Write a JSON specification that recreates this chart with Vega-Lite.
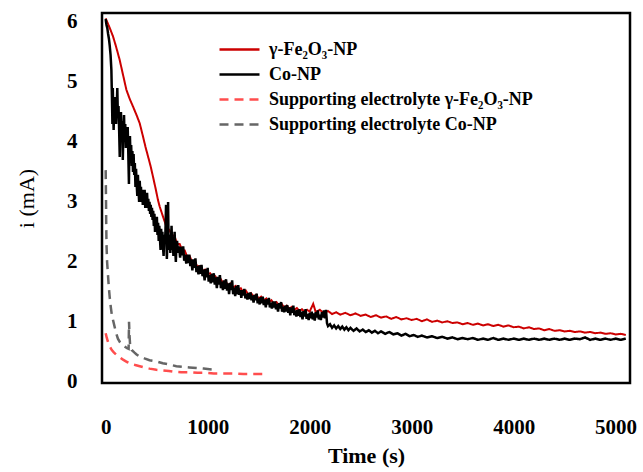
{
 "$schema": "https://vega.github.io/schema/vega-lite/v6.json",
 "width": 528, "height": 370,
 "autosize": {"type": "none"},
 "padding": {"left": 102, "top": 13, "right": 13, "bottom": 89},
 "background": "white",
 "config": {
  "view": {"stroke": "black", "strokeWidth": 2.5},
  "font": "Liberation Serif"
 },
 "datasets": {
  "xt": [{"t":0},{"t":1000},{"t":2000},{"t":3000},{"t":4000},{"t":5000}],
  "yt": [{"i":0},{"i":1},{"i":2},{"i":3},{"i":4},{"i":5},{"i":6}],
  "fe": [
   {"t":0,"i":6.06},{"t":20,"i":5.98},{"t":40,"i":5.9},{"t":72,"i":5.76},{"t":100,"i":5.6},{"t":137,"i":5.37},{"t":170,"i":5.12},{"t":203,"i":4.87},{"t":235,"i":4.72},{"t":268,"i":4.59},{"t":300,"i":4.46},{"t":334,"i":4.31},{"t":366,"i":4.09},{"t":390,"i":3.92},{"t":415,"i":3.76},{"t":440,"i":3.6},{"t":464,"i":3.42},{"t":490,"i":3.22},{"t":513,"i":3.03},{"t":530,"i":2.92},{"t":563,"i":2.75},{"t":595,"i":2.59},{"t":628,"i":2.52},
   {"t":650,"i":2.45},{"t":675,"i":2.43},{"t":700,"i":2.3},{"t":725,"i":2.3},{"t":750,"i":2.2},{"t":775,"i":2.19},{"t":800,"i":2.08},{"t":825,"i":2.09},{"t":850,"i":1.99},{"t":875,"i":2.0},{"t":900,"i":1.92},{"t":925,"i":1.93},{"t":950,"i":1.85},{"t":975,"i":1.87},{"t":1000,"i":1.79},{"t":1025,"i":1.81},{"t":1050,"i":1.74},{"t":1075,"i":1.76},{"t":1100,"i":1.69},{"t":1125,"i":1.72},{"t":1150,"i":1.65},{"t":1175,"i":1.68},{"t":1200,"i":1.61},{"t":1225,"i":1.64},{"t":1250,"i":1.57},{"t":1275,"i":1.6},{"t":1300,"i":1.53},{"t":1325,"i":1.56},{"t":1350,"i":1.49},{"t":1375,"i":1.52},{"t":1400,"i":1.45},{"t":1425,"i":1.48},{"t":1450,"i":1.42},{"t":1475,"i":1.45},{"t":1500,"i":1.39},{"t":1525,"i":1.42},{"t":1550,"i":1.36},{"t":1575,"i":1.39},{"t":1600,"i":1.33},{"t":1625,"i":1.36},{"t":1650,"i":1.3},{"t":1675,"i":1.33},{"t":1700,"i":1.27},{"t":1725,"i":1.3},{"t":1750,"i":1.24},{"t":1775,"i":1.27},{"t":1800,"i":1.22},{"t":1825,"i":1.25},{"t":1850,"i":1.2},{"t":1875,"i":1.23},{"t":1900,"i":1.18},{"t":1925,"i":1.21},{"t":1950,"i":1.17},{"t":1975,"i":1.2},{"t":2000,"i":1.17},{"t":2035,"i":1.3},{"t":2060,"i":1.16},{"t":2100,"i":1.2},{"t":2140,"i":1.14},{"t":2180,"i":1.18},{"t":2220,"i":1.13},{"t":2260,"i":1.16},{"t":2300,"i":1.12},{"t":2350,"i":1.15},{"t":2400,"i":1.11},{"t":2450,"i":1.14},{"t":2500,"i":1.1},{"t":2550,"i":1.12},{"t":2600,"i":1.08},{"t":2650,"i":1.11},{"t":2700,"i":1.07},{"t":2750,"i":1.09},{"t":2800,"i":1.05},{"t":2850,"i":1.08},{"t":2900,"i":1.04},{"t":2950,"i":1.06},{"t":3000,"i":1.03},{"t":3050,"i":1.05},{"t":3100,"i":1.01},{"t":3150,"i":1.04},{"t":3200,"i":1.0},{"t":3250,"i":1.02},{"t":3300,"i":0.99},{"t":3350,"i":1.01},{"t":3400,"i":0.98},{"t":3450,"i":0.99},{"t":3500,"i":0.96},{"t":3550,"i":0.98},{"t":3600,"i":0.95},{"t":3650,"i":0.97},{"t":3700,"i":0.94},{"t":3750,"i":0.96},{"t":3800,"i":0.93},{"t":3850,"i":0.95},{"t":3900,"i":0.92},{"t":3950,"i":0.94},{"t":4000,"i":0.91},{"t":4050,"i":0.92},{"t":4100,"i":0.89},{"t":4150,"i":0.91},{"t":4200,"i":0.88},{"t":4250,"i":0.89},{"t":4300,"i":0.86},{"t":4350,"i":0.88},{"t":4400,"i":0.85},{"t":4450,"i":0.86},{"t":4500,"i":0.84},{"t":4550,"i":0.85},{"t":4600,"i":0.83},{"t":4650,"i":0.84},{"t":4700,"i":0.82},{"t":4750,"i":0.83},{"t":4800,"i":0.81},{"t":4850,"i":0.82},{"t":4900,"i":0.8},{"t":4950,"i":0.81},{"t":5000,"i":0.79},{"t":5050,"i":0.8},{"t":5100,"i":0.78}
  ],
  "co": [
   {"t":0,"i":6.05},{"t":8,"i":5.95},{"t":16,"i":5.9},{"t":24,"i":5.8},{"t":32,"i":5.72},{"t":40,"i":5.6},{"t":48,"i":5.45},{"t":56,"i":5.2},{"t":62,"i":4.7},{"t":66,"i":4.3},{"t":70,"i":4.9},{"t":74,"i":4.5},{"t":78,"i":4.2},{"t":84,"i":4.6},{"t":90,"i":4.4},{"t":96,"i":4.75},{"t":102,"i":4.3},{"t":108,"i":4.55},{"t":114,"i":4.9},{"t":120,"i":4.4},{"t":126,"i":4.6},{"t":132,"i":4.2},{"t":138,"i":3.75},{"t":144,"i":4.3},{"t":150,"i":4.5},{"t":156,"i":4.0},{"t":162,"i":4.35},{"t":168,"i":3.7},{"t":174,"i":4.2},{"t":180,"i":4.45},{"t":186,"i":4.0},{"t":192,"i":4.3},{"t":198,"i":3.9},{"t":204,"i":4.2},{"t":210,"i":3.95},{"t":216,"i":4.25},{"t":222,"i":3.8},{"t":228,"i":3.3},{"t":232,"i":3.9},{"t":238,"i":4.1},{"t":244,"i":3.7},{"t":250,"i":3.95},{"t":256,"i":3.6},{"t":262,"i":3.85},{"t":268,"i":3.5},{"t":274,"i":3.8},{"t":280,"i":3.45},{"t":286,"i":3.65},{"t":292,"i":3.25},{"t":298,"i":3.55},{"t":304,"i":3.3},{"t":310,"i":3.1},{"t":316,"i":3.45},{"t":322,"i":3.2},{"t":328,"i":3.0},{"t":334,"i":3.35},{"t":340,"i":3.1},{"t":346,"i":3.25},{"t":352,"i":3.0},{"t":358,"i":3.2},{"t":364,"i":2.95},{"t":370,"i":3.15},{"t":376,"i":3.0},{"t":382,"i":3.2},{"t":388,"i":2.9},{"t":394,"i":3.1},{"t":400,"i":2.95},{"t":406,"i":3.15},{"t":412,"i":2.9},{"t":418,"i":3.05},{"t":424,"i":2.85},{"t":430,"i":3.0},{"t":436,"i":2.8},{"t":442,"i":2.95},{"t":448,"i":2.75},{"t":454,"i":2.9},{"t":460,"i":2.7},{"t":466,"i":2.85},{"t":472,"i":2.6},{"t":478,"i":2.8},{"t":484,"i":2.5},{"t":490,"i":2.7},{"t":496,"i":2.55},{"t":502,"i":2.75},{"t":508,"i":2.45},{"t":514,"i":2.65},{"t":520,"i":2.35},{"t":526,"i":2.6},{"t":532,"i":2.4},{"t":538,"i":2.2},{"t":544,"i":2.55},{"t":550,"i":2.3},{"t":556,"i":2.5},{"t":562,"i":2.25},{"t":568,"i":2.1},{"t":574,"i":2.45},{"t":580,"i":2.3},{"t":586,"i":2.5},{"t":592,"i":2.95},{"t":596,"i":2.3},{"t":600,"i":2.05},{"t":606,"i":2.35},{"t":612,"i":3.0},{"t":616,"i":2.4},{"t":622,"i":2.2},{"t":628,"i":2.45},{"t":634,"i":2.15},{"t":640,"i":2.35},{"t":646,"i":2.6},{"t":652,"i":2.2},{"t":658,"i":2.4},{"t":664,"i":2.1},{"t":670,"i":2.3},{"t":676,"i":2.5},{"t":682,"i":2.2},{"t":688,"i":2.0},{"t":694,"i":2.3},
   {"t":700,"i":2.35},{"t":710,"i":2.15},{"t":720,"i":2.26},{"t":730,"i":2.07},{"t":740,"i":2.25},{"t":750,"i":2.11},{"t":760,"i":2.26},{"t":770,"i":2.02},{"t":780,"i":2.12},{"t":790,"i":1.97},{"t":800,"i":2.12},{"t":810,"i":1.98},{"t":820,"i":2.12},{"t":830,"i":1.93},{"t":840,"i":2.04},{"t":850,"i":1.86},{"t":860,"i":2.04},{"t":870,"i":1.9},{"t":880,"i":2.06},{"t":890,"i":1.83},{"t":900,"i":1.93},{"t":910,"i":1.79},{"t":920,"i":1.94},{"t":930,"i":1.8},{"t":940,"i":1.95},{"t":950,"i":1.76},{"t":960,"i":1.87},{"t":970,"i":1.69},{"t":980,"i":1.88},{"t":990,"i":1.74},{"t":1000,"i":1.9},{"t":1010,"i":1.67},{"t":1020,"i":1.78},{"t":1030,"i":1.64},{"t":1040,"i":1.8},{"t":1050,"i":1.66},{"t":1060,"i":1.81},{"t":1070,"i":1.62},{"t":1080,"i":1.74},{"t":1090,"i":1.56},{"t":1100,"i":1.75},{"t":1110,"i":1.62},{"t":1120,"i":1.78},{"t":1130,"i":1.56},{"t":1140,"i":1.67},{"t":1150,"i":1.53},{"t":1160,"i":1.69},{"t":1170,"i":1.55},{"t":1180,"i":1.71},{"t":1190,"i":1.52},{"t":1200,"i":1.64},{"t":1210,"i":1.46},{"t":1220,"i":1.65},{"t":1230,"i":1.53},{"t":1240,"i":1.69},{"t":1250,"i":1.46},{"t":1260,"i":1.57},{"t":1270,"i":1.43},{"t":1280,"i":1.6},{"t":1290,"i":1.46},{"t":1300,"i":1.61},{"t":1310,"i":1.45},{"t":1320,"i":1.53},{"t":1330,"i":1.4},{"t":1340,"i":1.53},{"t":1350,"i":1.44},{"t":1360,"i":1.55},{"t":1370,"i":1.39},{"t":1380,"i":1.47},{"t":1390,"i":1.37},{"t":1400,"i":1.48},{"t":1410,"i":1.38},{"t":1420,"i":1.49},{"t":1430,"i":1.36},{"t":1440,"i":1.44},{"t":1450,"i":1.32},{"t":1460,"i":1.45},{"t":1470,"i":1.36},{"t":1480,"i":1.47},{"t":1490,"i":1.31},{"t":1500,"i":1.39},{"t":1510,"i":1.29},{"t":1520,"i":1.41},{"t":1530,"i":1.31},{"t":1540,"i":1.42},{"t":1550,"i":1.28},{"t":1560,"i":1.37},{"t":1570,"i":1.24},{"t":1580,"i":1.38},{"t":1590,"i":1.29},{"t":1600,"i":1.4},{"t":1610,"i":1.24},{"t":1620,"i":1.32},{"t":1630,"i":1.22},{"t":1640,"i":1.34},{"t":1650,"i":1.24},{"t":1660,"i":1.34},{"t":1670,"i":1.21},{"t":1680,"i":1.3},{"t":1690,"i":1.17},{"t":1700,"i":1.31},{"t":1710,"i":1.22},{"t":1720,"i":1.33},{"t":1730,"i":1.17},{"t":1740,"i":1.25},{"t":1750,"i":1.16},{"t":1760,"i":1.27},{"t":1770,"i":1.17},{"t":1780,"i":1.28},{"t":1790,"i":1.15},{"t":1800,"i":1.24},{"t":1810,"i":1.11},{"t":1820,"i":1.24},{"t":1830,"i":1.15},{"t":1840,"i":1.27},{"t":1850,"i":1.11},{"t":1860,"i":1.19},{"t":1870,"i":1.09},{"t":1880,"i":1.2},{"t":1890,"i":1.1},{"t":1900,"i":1.21},{"t":1910,"i":1.08},{"t":1920,"i":1.17},{"t":1930,"i":1.04},{"t":1940,"i":1.18},{"t":1950,"i":1.09},{"t":1960,"i":1.21},{"t":1970,"i":1.05},{"t":1980,"i":1.13},{"t":1990,"i":1.03},{"t":2000,"i":1.15},{"t":2010,"i":1.06},{"t":2020,"i":1.17},{"t":2030,"i":1.04},{"t":2040,"i":1.14},{"t":2050,"i":1.02},{"t":2060,"i":1.16},{"t":2070,"i":1.07},{"t":2080,"i":1.19},{"t":2090,"i":1.04},{"t":2100,"i":1.12},{"t":2110,"i":1.03},{"t":2120,"i":1.16},{"t":2130,"i":1.07},{"t":2140,"i":1.19},{"t":2150,"i":1.06},{"t":2160,"i":1.2},{"t":2170,"i":0.98},{"t":2180,"i":0.93},
   {"t":2200,"i":0.96},{"t":2220,"i":0.9},{"t":2240,"i":0.94},{"t":2260,"i":0.89},{"t":2280,"i":0.93},{"t":2300,"i":0.88},{"t":2320,"i":0.92},{"t":2340,"i":0.87},{"t":2360,"i":0.91},{"t":2380,"i":0.86},{"t":2400,"i":0.9},{"t":2430,"i":0.85},{"t":2460,"i":0.89},{"t":2490,"i":0.84},{"t":2520,"i":0.87},{"t":2550,"i":0.83},{"t":2580,"i":0.86},{"t":2610,"i":0.82},{"t":2640,"i":0.85},{"t":2670,"i":0.81},{"t":2700,"i":0.84},{"t":2740,"i":0.8},{"t":2780,"i":0.83},{"t":2820,"i":0.79},{"t":2860,"i":0.81},{"t":2900,"i":0.77},{"t":2940,"i":0.8},{"t":2980,"i":0.76},{"t":3020,"i":0.78},{"t":3060,"i":0.75},{"t":3100,"i":0.77},{"t":3150,"i":0.74},{"t":3200,"i":0.76},{"t":3250,"i":0.73},{"t":3300,"i":0.75},{"t":3350,"i":0.72},{"t":3400,"i":0.74},{"t":3450,"i":0.71},{"t":3500,"i":0.73},{"t":3550,"i":0.71},{"t":3600,"i":0.73},{"t":3650,"i":0.7},{"t":3700,"i":0.72},{"t":3750,"i":0.7},{"t":3800,"i":0.73},{"t":3850,"i":0.7},{"t":3900,"i":0.72},{"t":3950,"i":0.7},{"t":4000,"i":0.72},{"t":4050,"i":0.7},{"t":4100,"i":0.72},{"t":4150,"i":0.7},{"t":4200,"i":0.72},{"t":4250,"i":0.7},{"t":4300,"i":0.72},{"t":4350,"i":0.7},{"t":4400,"i":0.72},{"t":4450,"i":0.7},{"t":4500,"i":0.72},{"t":4550,"i":0.7},{"t":4600,"i":0.72},{"t":4650,"i":0.71},{"t":4700,"i":0.74},{"t":4750,"i":0.7},{"t":4800,"i":0.72},{"t":4850,"i":0.7},{"t":4900,"i":0.72},{"t":4950,"i":0.7},{"t":5000,"i":0.72},{"t":5050,"i":0.7},{"t":5100,"i":0.72}
  ],
  "sfe": [
   {"t":0,"i":0.81},{"t":10,"i":0.74},{"t":20,"i":0.68},{"t":39,"i":0.59},{"t":60,"i":0.53},{"t":80,"i":0.49},{"t":105,"i":0.45},{"t":135,"i":0.41},{"t":170,"i":0.37},{"t":210,"i":0.33},{"t":250,"i":0.3},{"t":290,"i":0.28},{"t":334,"i":0.26},{"t":380,"i":0.24},{"t":430,"i":0.22},{"t":497,"i":0.2},{"t":560,"i":0.19},{"t":620,"i":0.18},{"t":660,"i":0.17},{"t":740,"i":0.16},{"t":824,"i":0.16},{"t":900,"i":0.15},{"t":980,"i":0.15},{"t":1060,"i":0.14},{"t":1151,"i":0.14},{"t":1250,"i":0.14},{"t":1350,"i":0.13},{"t":1450,"i":0.13},{"t":1530,"i":0.13},{"t":1590,"i":0.13}
  ],
  "sco": [
   {"t":0,"i":3.53},{"t":3,"i":3.1},{"t":5,"i":2.7},{"t":8,"i":2.3},{"t":14,"i":2.0},{"t":22,"i":1.8},{"t":30,"i":1.6},{"t":39,"i":1.42},{"t":50,"i":1.25},{"t":60,"i":1.12},{"t":72,"i":1.03},{"t":90,"i":0.9},{"t":105,"i":0.8},{"t":120,"i":0.72},{"t":140,"i":0.66},{"t":160,"i":0.62},{"t":186,"i":0.59},{"t":210,"i":0.56},{"t":225,"i":0.55},{"t":229,"i":1.0},{"t":233,"i":0.8},{"t":240,"i":0.6},{"t":255,"i":0.53},{"t":280,"i":0.49},{"t":300,"i":0.46},{"t":334,"i":0.42},{"t":380,"i":0.39},{"t":430,"i":0.36},{"t":497,"i":0.34},{"t":560,"i":0.31},{"t":620,"i":0.29},{"t":693,"i":0.26},{"t":760,"i":0.25},{"t":820,"i":0.24},{"t":890,"i":0.23},{"t":960,"i":0.22},{"t":1020,"i":0.21},{"t":1086,"i":0.2}
  ]
 },
 "encoding": {
  "x": {"field": "t", "type": "quantitative", "scale": {"domain": [-36, 5141], "nice": false, "zero": false},
   "axis": {"values": [0, 1000, 2000, 3000, 4000, 5000], "format": "d", "domain": false, "grid": false, "ticks": false, "labelFont": "Liberation Serif", "labelFontWeight": "bold", "labelFontSize": 21, "labelColor": "black", "labelPadding": 33, "labelFlush": false, "title": "Time (s)", "titleFont": "Liberation Serif", "titleFontWeight": "bold", "titleFontSize": 22, "titleColor": "black", "titlePadding": 8}},
  "y": {"field": "i", "type": "quantitative", "scale": {"domain": [-0.02, 6.15], "nice": false, "zero": false},
   "axis": {"values": [0, 1, 2, 3, 4, 5, 6], "domain": false, "grid": false, "ticks": false, "labelFont": "Liberation Serif", "labelFontWeight": "bold", "labelFontSize": 21, "labelColor": "black", "labelPadding": 25, "title": "i (mA)", "titleFont": "Liberation Serif", "titleFontWeight": "normal", "titleFontSize": 22, "titleColor": "black", "titlePadding": 28}}
 },
 "layer": [
  {"data": {"name": "xt"}, "mark": {"type": "rule", "color": "black", "strokeWidth": 3, "clip": false},
   "encoding": {"x": {"field": "t", "type": "quantitative"}, "y": {"datum": -0.02}, "y2": {"datum": -0.337}}},
  {"data": {"name": "yt"}, "mark": {"type": "rule", "color": "black", "strokeWidth": 3, "clip": false},
   "encoding": {"y": {"field": "i", "type": "quantitative"}, "x": {"datum": -36}, "x2": {"datum": -222}}},
  {"data": {"name": "fe"}, "mark": {"type": "line", "strokeWidth": 2, "clip": true},
   "encoding": {
    "color": {"datum": "γ-Fe₂O₃-NP", "type": "nominal", "scale": {"domain": ["γ-Fe₂O₃-NP", "Co-NP", "Supporting electrolyte γ-Fe₂O₃-NP", "Supporting electrolyte Co-NP"], "range": ["#cc0000", "#000000", "#ff4d4d", "#666666"]},
     "legend": {"orient": "none", "legendX": 116, "legendY": 24, "title": null, "symbolType": "stroke", "symbolSize": 1600, "symbolStrokeWidth": 2.5, "clipHeight": 25, "rowPadding": 0, "labelOffset": 8, "labelFont": "Liberation Serif", "labelFontWeight": "bold", "labelFontSize": 18, "labelColor": "black", "labelLimit": 400}},
    "strokeDash": {"datum": "γ-Fe₂O₃-NP", "type": "nominal", "scale": {"domain": ["γ-Fe₂O₃-NP", "Co-NP", "Supporting electrolyte γ-Fe₂O₃-NP", "Supporting electrolyte Co-NP"], "range": [[1, 0], [1, 0], [9, 6], [9, 6]]},
     "legend": {"orient": "none", "legendX": 116, "legendY": 24, "title": null, "symbolType": "stroke", "symbolSize": 1600, "symbolStrokeWidth": 2.5, "clipHeight": 25, "rowPadding": 0, "labelOffset": 8, "labelFont": "Liberation Serif", "labelFontWeight": "bold", "labelFontSize": 18, "labelColor": "black", "labelLimit": 400}}
   }},
  {"data": {"name": "co"}, "mark": {"type": "line", "strokeWidth": 2.5, "clip": true},
   "encoding": {"color": {"datum": "Co-NP", "type": "nominal"}, "strokeDash": {"datum": "Co-NP", "type": "nominal"}}},
  {"data": {"name": "sfe"}, "mark": {"type": "line", "strokeWidth": 2.5, "clip": true},
   "encoding": {"color": {"datum": "Supporting electrolyte γ-Fe₂O₃-NP", "type": "nominal"}, "strokeDash": {"datum": "Supporting electrolyte γ-Fe₂O₃-NP", "type": "nominal"}}},
  {"data": {"name": "sco"}, "mark": {"type": "line", "strokeWidth": 2.5, "clip": true},
   "encoding": {"color": {"datum": "Supporting electrolyte Co-NP", "type": "nominal"}, "strokeDash": {"datum": "Supporting electrolyte Co-NP", "type": "nominal"}}}
 ]
}
